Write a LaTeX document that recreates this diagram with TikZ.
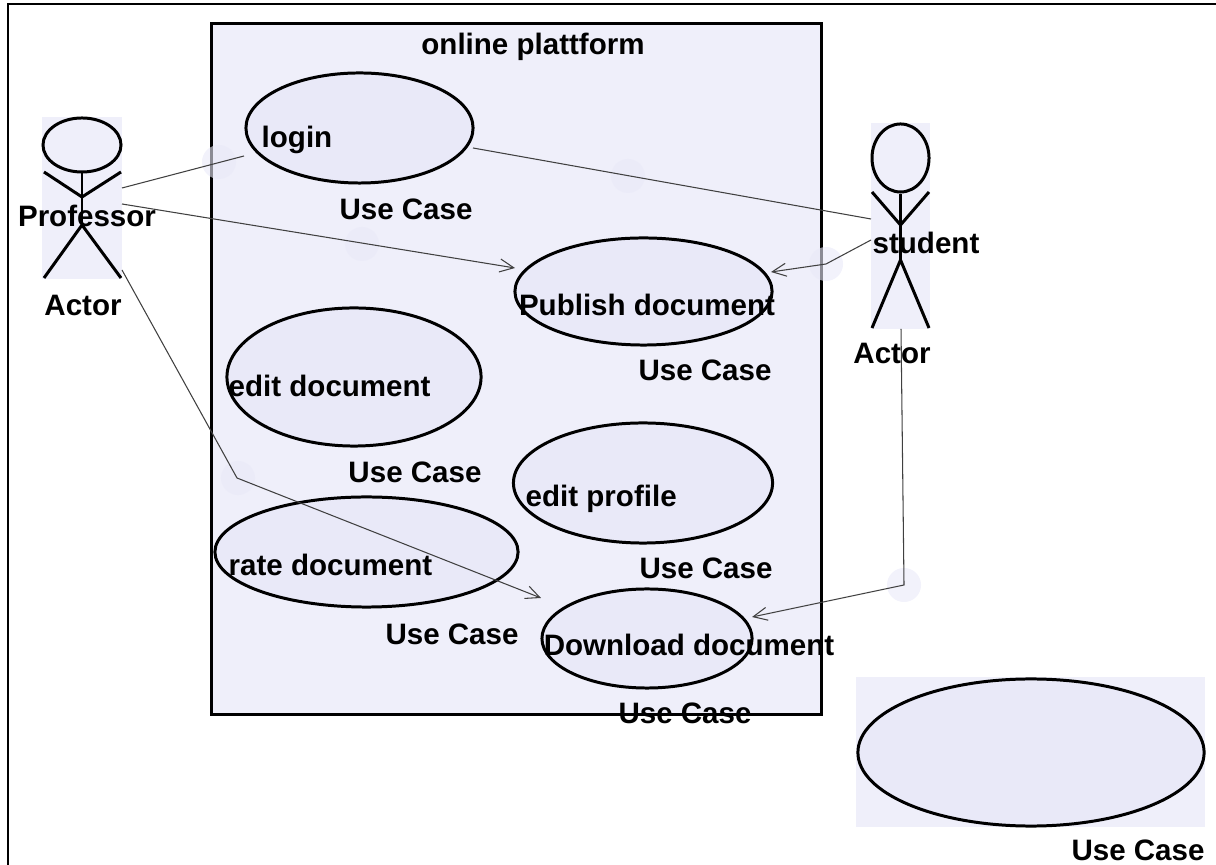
\documentclass[tikz,border=0pt]{standalone}
\usepackage{fontspec}
\setmainfont{Liberation Sans}
\usetikzlibrary{arrows.meta,shapes.geometric}
\definecolor{boxpale}{HTML}{EFEFFA}
\definecolor{ucpale}{HTML}{E9E9F8}
\tikzset{
  every node/.style={inner sep=0pt,font=\fontsize{8.4}{10}\selectfont\bfseries},
  sysbox/.style={draw=black,fill=boxpale,line width=0.85pt},
  palebox/.style={rectangle,fill=boxpale},
  usecase/.style={ellipse,draw=black,fill=ucpale,line width=0.85pt},
  bendmark/.style={circle,fill=ucpale,fill opacity=0.6,minimum size=0.34cm},
  stick/.style={draw=black,line width=0.85pt},
  assoc/.style={draw=black!75,line width=0.3pt},
  arrowed/.style={assoc,-{Straight Barb[length=1.4mm,width=1.3mm]}}
}
\begin{document}
\begin{tikzpicture}[x=0.01cm,y=-0.01cm]
  \useasboundingbox (0,0) rectangle (1216,865);
  % frame
  \draw [black,line width=0.6pt] (8,865) -- (8,4) -- (1216,4);
  \node [rectangle,sysbox,minimum width=6.09cm,minimum height=6.9cm] (system) at (516.5,369) {};
  % pale boxes
  \node [palebox,minimum width=2.29cm,minimum height=1.12cm] (loginbox) at (359.5,128) {};
  \node [palebox,minimum width=2.58cm,minimum height=1.08cm] (publishbox) at (643,291) {};
  \node [palebox,minimum width=2.57cm,minimum height=1.39cm] (editdocbox) at (353.5,376.5) {};
  \node [palebox,minimum width=2.6cm,minimum height=1.22cm] (editprofbox) at (643,483) {};
  \node [palebox,minimum width=3.04cm,minimum height=1.15cm] (ratebox) at (367,552.5) {};
  \node [palebox,minimum width=2.12cm,minimum height=1.02cm] (downloadbox) at (647,638) {};
  \node [palebox,minimum width=3.49cm,minimum height=1.5cm] (sparebox) at (1030.5,752) {};
  \node [palebox,minimum width=0.8cm,minimum height=1.62cm] (profbox) at (82,198) {};
  \node [palebox,minimum width=0.59cm,minimum height=2.06cm] (studbox) at (900.5,226) {};
  % use cases
  \node [usecase,minimum width=2.27cm,minimum height=1.1cm] (login) at (359.5,128) {};
  \node [usecase,minimum width=2.57cm,minimum height=1.07cm] (publish) at (643.5,291.5) {};
  \node [usecase,minimum width=2.54cm,minimum height=1.38cm] (editdoc) at (354,377) {};
  \node [usecase,minimum width=2.59cm,minimum height=1.2cm] (editprof) at (643,483) {};
  \node [usecase,minimum width=3.03cm,minimum height=1.1cm] (rate) at (366.5,552) {};
  \node [usecase,minimum width=2.1cm,minimum height=0.99cm] (download) at (647,638.5) {};
  \node [usecase,minimum width=3.46cm,minimum height=1.47cm] (spare) at (1031,752.5) {};
  % bend points
  \node [bendmark] (b1) at (219,162) {};
  \node [bendmark] (b2) at (628,176) {};
  \node [bendmark] (b3) at (362,244) {};
  \node [bendmark] (b4) at (826,264) {};
  \node [bendmark] (b5) at (904,585) {};
  \node [bendmark] (b6) at (238,478) {};
  % professor
  \node [ellipse,stick,minimum width=0.78cm,minimum height=0.54cm] (profhead) at (82,145) {};
  \coordinate (profhip) at (82,225);
  \coordinate (profarm) at (82,197);
  \coordinate (profhl) at (44,172);
  \coordinate (profhr) at (121,172);
  \coordinate (proffl) at (44,278);
  \coordinate (proffr) at (121,278);
  \draw [stick] (profhead.south) -- (profhip);
  \draw [stick] (profhl) -- (profarm) -- (profhr);
  \draw [stick] (proffl) -- (profhip) -- (proffr);
  % student
  \node [ellipse,stick,minimum width=0.57cm,minimum height=0.68cm] (studhead) at (900.5,158) {};
  \coordinate (studhip) at (900.5,260);
  \coordinate (studarm) at (900.5,225);
  \coordinate (studhl) at (872,192);
  \coordinate (studhr) at (929,192);
  \coordinate (studfl) at (872,328);
  \coordinate (studfr) at (929,328);
  \draw [stick] (studhead.south) -- (studhip);
  \draw [stick] (studhl) -- (studarm) -- (studhr);
  \draw [stick] (studfl) -- (studhip) -- (studfr);
  % connector ends
  \coordinate (p1) at (122,188);
  \coordinate (p2) at (122,204);
  \coordinate (p3) at (122,270);
  \coordinate (l1) at (244,156);
  \coordinate (l2) at (473,148);
  \coordinate (s1) at (871,219);
  \coordinate (s2) at (871,240);
  \coordinate (s3) at (901,329);
  \coordinate (c1) at (515,268);
  \coordinate (c2) at (771,272);
  \coordinate (c3) at (541,598);
  \coordinate (c4) at (752,617);
  \coordinate (k1) at (237,478);
  \coordinate (k2) at (826,264);
  \coordinate (k3) at (904,585);
  \draw [assoc] (p1) -- (l1);
  \draw [assoc] (l2) -- (s1);
  \draw [arrowed] (p2) -- (c1);
  \draw [arrowed] (p3) -- (k1) -- (c3);
  \draw [arrowed] (s2) -- (k2) -- (c2);
  \draw [arrowed] (s3) -- (k3) -- (c4);
  % labels
  \node (systitle) at (533,47) {online plattform};
  \node [anchor=west] (loginlabel) at (261,140) {login};
  \node (logintype) at (406,209) {Use Case};
  \node (publishlabel) at (647,305) {Publish document};
  \node (publishtype) at (705,370) {Use Case};
  \node [anchor=west] (editdoclabel) at (228,386) {edit document};
  \node (editdoctype) at (415,472) {Use Case};
  \node [anchor=west] (editproflabel) at (525,499) {edit profile};
  \node (editproftype) at (706,568) {Use Case};
  \node [anchor=west] (ratelabel) at (228,565) {rate document};
  \node (ratetype) at (452,634) {Use Case};
  \node (downloadlabel) at (689,645) {Download document};
  \node (downloadtype) at (685,713) {Use Case};
  \node (sparetype) at (1138,850) {Use Case};
  \node (proflabel) at (87,216) {Professor};
  \node (proftype) at (83,305) {Actor};
  \node (studlabel) at (926,243) {student};
  \node (studtype) at (892,353) {Actor};
\end{tikzpicture}
\end{document}
